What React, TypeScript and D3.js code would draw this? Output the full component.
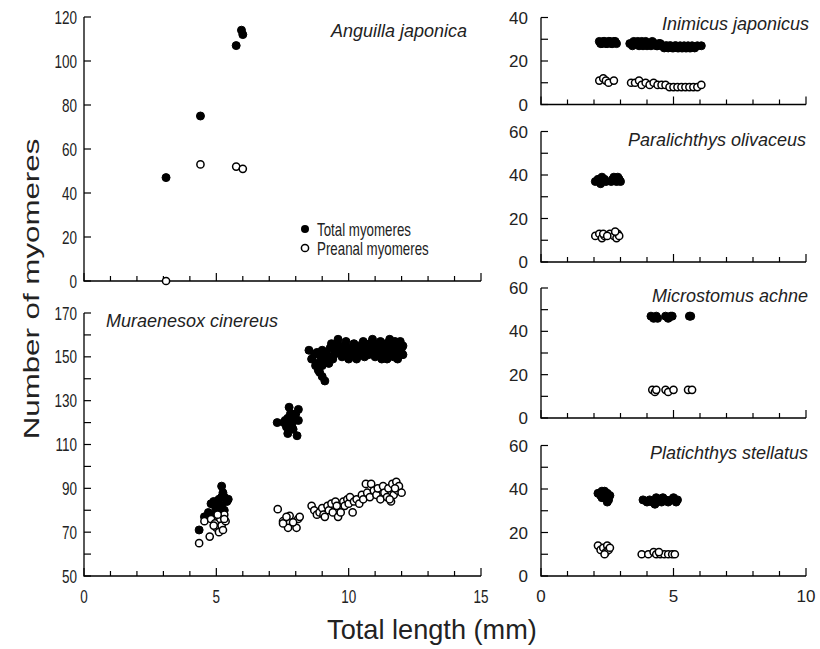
import React from "react";
import * as d3 from "d3";

type Pt = [number, number];

const W = 820;
const H = 649;
const SANS = "'Liberation Sans', Arial, sans-serif";
const INK = "#222";

// total length (mm), number of myomeres
const anguillaTotal: Pt[] = [[3.1, 47], [4.4, 75], [5.75, 107], [5.95, 114], [6.0, 112]];
const anguillaPreanal: Pt[] = [[3.1, 0], [4.4, 53], [5.75, 52], [6.0, 51]];

const muraenesoxTotal: Pt[] = [
  [4.35, 71], [4.55, 77], [4.7, 79], [4.8, 83], [4.9, 84], [5.0, 83], [5.1, 85], [5.2, 91],
  [5.25, 88], [5.3, 86], [5.4, 84], [5.45, 85], [5.0, 80], [5.1, 81], [5.2, 82], [5.3, 80],
  [4.9, 78], [5.15, 78], [4.95, 82], [5.2, 86], [5.05, 84],
  [7.3, 120], [7.55, 120], [7.65, 118], [7.75, 127], [7.7, 122], [7.8, 124], [7.85, 119],
  [7.7, 115], [8.05, 114], [8.1, 126], [7.95, 121], [8.0, 124], [8.1, 121], [7.9, 117], [7.6, 121],
  [8.5, 153], [8.6, 149], [8.7, 151], [8.75, 146], [8.8, 147], [8.85, 144], [8.9, 143], [9.0, 141],
  [9.1, 139], [8.95, 150], [9.0, 153], [9.05, 148], [9.15, 152], [9.2, 150], [9.3, 154], [9.35, 156],
  [9.45, 151], [9.5, 153], [9.6, 158], [9.7, 155], [9.75, 150], [9.8, 152], [9.9, 157], [10.0, 149],
  [10.05, 154], [10.1, 151], [10.2, 156], [10.3, 149], [10.35, 153], [10.4, 155], [10.5, 152],
  [10.55, 157], [10.6, 150], [10.7, 154], [10.75, 151], [10.8, 156], [10.9, 158], [10.95, 153],
  [11.0, 150], [11.1, 155], [11.15, 152], [11.2, 157], [11.3, 151], [11.35, 154], [11.4, 156],
  [11.45, 149], [11.5, 153], [11.55, 158], [11.6, 151], [11.65, 155], [11.7, 150], [11.75, 157],
  [11.8, 153], [11.85, 149], [11.9, 156], [11.95, 152], [12.0, 154], [12.05, 155], [11.7, 153],
  [11.5, 150], [11.25, 149], [9.25, 147], [9.4, 149], [9.55, 155], [9.65, 152], [9.85, 154],
  [9.95, 151], [10.15, 153], [10.25, 150], [10.45, 151], [10.65, 155], [10.85, 152], [11.05, 153],
  [11.25, 155], [11.55, 152], [11.8, 151], [11.95, 157], [12.05, 151], [10.95, 156], [9.0, 146],
  [9.1, 150], [8.8, 152],
];
const muraenesoxPreanal: Pt[] = [
  [4.35, 65], [4.75, 68], [4.55, 75], [4.8, 76], [4.95, 74], [5.0, 72], [5.1, 70], [5.15, 76],
  [5.2, 73], [5.3, 78], [5.35, 75], [5.25, 71], [5.05, 78], [4.9, 73], [5.3, 76],
  [7.32, 80.5], [7.52, 75], [7.77, 77.5], [7.71, 72], [8.09, 76], [8.03, 72], [7.9, 74.5],
  [7.52, 74], [7.65, 77], [8.15, 77],
  [8.6, 82], [8.7, 80], [8.8, 78], [8.9, 79], [9.0, 81], [9.05, 78], [9.1, 77], [9.2, 82],
  [9.25, 80], [9.35, 83], [9.4, 79], [9.5, 84], [9.55, 82], [9.6, 77], [9.7, 79], [9.8, 84],
  [9.85, 82], [9.95, 85], [10.0, 83], [10.05, 86], [10.15, 79], [10.2, 84], [10.3, 85], [10.4, 83],
  [10.5, 87], [10.55, 85], [10.65, 92], [10.7, 88], [10.8, 86], [10.85, 92], [10.95, 89],
  [11.05, 87], [11.1, 90], [11.2, 85], [11.3, 91], [11.35, 88], [11.45, 86], [11.5, 90],
  [11.6, 84], [11.65, 92], [11.7, 87], [11.8, 93], [11.85, 89], [11.9, 91], [12.0, 88],
  [11.55, 85], [11.75, 90],
];

const inimicusTotal: Pt[] = [
  [2.2, 29], [2.25, 28], [2.3, 28], [2.35, 29], [2.4, 29], [2.45, 28], [2.5, 28], [2.55, 29],
  [2.6, 29], [2.65, 28], [2.7, 28], [2.75, 29], [2.8, 29], [2.85, 28],
  [3.35, 28], [3.45, 27], [3.5, 29], [3.55, 28], [3.6, 28], [3.65, 29], [3.7, 27], [3.75, 28],
  [3.8, 29], [3.85, 27], [3.9, 28], [3.95, 29], [4.0, 27], [4.05, 28], [4.1, 28], [4.15, 27],
  [4.2, 29], [4.25, 28], [4.3, 28], [4.35, 27], [4.4, 27], [4.45, 28], [4.5, 28], [4.55, 27],
  [4.6, 27], [4.65, 26], [4.7, 27], [4.75, 27], [4.8, 26], [4.85, 27], [4.9, 27], [4.95, 26],
  [5.0, 26], [5.05, 27], [5.1, 27], [5.15, 26], [5.2, 26], [5.25, 27], [5.3, 26], [5.35, 26],
  [5.4, 27], [5.45, 26], [5.5, 26], [5.55, 27], [5.6, 26], [5.65, 26], [5.7, 27], [5.8, 26],
  [5.9, 27], [6.05, 27],
];
const inimicusPreanal: Pt[] = [
  [2.2, 11], [2.35, 12], [2.45, 11], [2.55, 10], [2.75, 11],
  [3.4, 10], [3.55, 10], [3.7, 11], [3.8, 9], [3.95, 10], [4.1, 9], [4.25, 10], [4.4, 9],
  [4.55, 9], [4.7, 9], [4.85, 8], [5.0, 8], [5.15, 8], [5.3, 8], [5.45, 8], [5.6, 8],
  [5.75, 8], [5.9, 8], [6.05, 9],
];

const paralichthysTotal: Pt[] = [
  [2.05, 37], [2.15, 38], [2.25, 36], [2.35, 38], [2.45, 37], [2.3, 39], [2.2, 37], [2.4, 38],
  [2.65, 37], [2.7, 38], [2.75, 39], [2.85, 37], [2.95, 38], [3.0, 37], [2.9, 39], [2.8, 38],
];
const paralichthysPreanal: Pt[] = [
  [2.05, 12], [2.2, 13], [2.3, 11], [2.4, 12], [2.35, 13], [2.6, 13], [2.75, 12],
  [2.85, 11], [2.9, 13], [2.95, 12], [2.5, 12], [2.8, 14],
];

const microstomusTotal: Pt[] = [
  [4.15, 47], [4.25, 46], [4.35, 47], [4.4, 46], [4.7, 47], [4.8, 46], [4.9, 47], [4.95, 47],
  [5.6, 47], [5.65, 47],
];
const microstomusPreanal: Pt[] = [
  [4.2, 13], [4.3, 12], [4.35, 13], [4.7, 13], [4.8, 12], [5.0, 13], [5.55, 13], [5.7, 13],
];

const platichthysTotal: Pt[] = [
  [2.15, 38], [2.25, 37], [2.3, 39], [2.35, 38], [2.4, 36], [2.45, 37], [2.5, 38], [2.55, 35],
  [2.6, 37], [2.5, 34], [2.4, 39], [2.3, 36],
  [3.85, 35], [4.0, 34], [4.1, 35], [4.2, 34], [4.3, 33], [4.35, 36], [4.45, 35], [4.55, 34],
  [4.6, 36], [4.7, 35], [4.8, 34], [4.9, 35], [5.0, 36], [5.1, 34], [5.15, 35],
];
const platichthysPreanal: Pt[] = [
  [2.15, 14], [2.25, 12], [2.35, 13], [2.45, 11], [2.5, 14], [2.55, 12], [2.4, 10], [2.6, 13],
  [3.8, 10], [4.05, 10], [4.25, 11], [4.35, 10], [4.5, 10], [4.65, 10], [4.8, 10], [4.95, 10],
  [5.05, 10], [4.45, 11],
];

type PanelCfg = {
  title: string;
  titleX: number;
  titleY: number;
  titleAnchor: "start" | "end";
  x: [number, number, number, number]; // domain lo, hi, range lo, hi
  y: [number, number, number, number];
  yStep: number;
  yLabelStep: number;
  xLabels: boolean;
  narrow: boolean;
  total: Pt[];
  preanal: Pt[];
};

const panels: PanelCfg[] = [
  { title: "Anguilla japonica", titleX: 467, titleY: 37, titleAnchor: "end",
    x: [0, 15, 84, 481], y: [0, 120, 281, 17], yStep: 20, yLabelStep: 20, xLabels: false, narrow: true,
    total: anguillaTotal, preanal: anguillaPreanal },
  { title: "Muraenesox cinereus", titleX: 106, titleY: 327, titleAnchor: "start",
    x: [0, 15, 84, 481], y: [50, 170, 576, 313], yStep: 10, yLabelStep: 20, xLabels: true, narrow: true,
    total: muraenesoxTotal, preanal: muraenesoxPreanal },
  { title: "Inimicus japonicus", titleX: 809, titleY: 30, titleAnchor: "end",
    x: [0, 10, 541, 806], y: [0, 40, 104.5, 17.5], yStep: 10, yLabelStep: 20, xLabels: false, narrow: false,
    total: inimicusTotal, preanal: inimicusPreanal },
  { title: "Paralichthys olivaceus", titleX: 806, titleY: 146, titleAnchor: "end",
    x: [0, 10, 541, 806], y: [0, 60, 262, 131.5], yStep: 10, yLabelStep: 20, xLabels: false, narrow: false,
    total: paralichthysTotal, preanal: paralichthysPreanal },
  { title: "Microstomus achne", titleX: 808, titleY: 302, titleAnchor: "end",
    x: [0, 10, 541, 806], y: [0, 60, 418, 288], yStep: 10, yLabelStep: 20, xLabels: false, narrow: false,
    total: microstomusTotal, preanal: microstomusPreanal },
  { title: "Platichthys stellatus", titleX: 808, titleY: 459, titleAnchor: "end",
    x: [0, 10, 541, 806], y: [0, 60, 576, 445.5], yStep: 10, yLabelStep: 20, xLabels: true, narrow: false,
    total: platichthysTotal, preanal: platichthysPreanal },
];

const R = 4;

// horizontally condensed text, like the reference's narrow face
function Narrow({ x, y, size, anchor, sx, children }: { x: number; y: number; size: number; anchor?: string; sx?: number; children: React.ReactNode }) {
  return (
    <text transform={`translate(${x},${y}) scale(${sx || 0.75},1)`} textAnchor={anchor || "start"}
      fontFamily={SANS} fontSize={size} fill={INK}>
      {children}
    </text>
  );
}

function Panel({ p }: { p: PanelCfg }) {
  const xs = d3.scaleLinear().domain([p.x[0], p.x[1]]).range([p.x[2], p.x[3]]);
  const ys = d3.scaleLinear().domain([p.y[0], p.y[1]]).range([p.y[2], p.y[3]]);
  const x0 = xs.range()[0];
  const x1 = xs.range()[1];
  const yb = ys.range()[0];
  const yt = ys.range()[1];
  const yTicks = d3.range(p.y[0], p.y[1] + 0.001, p.yStep);
  const xTicks = d3.range(p.x[0], p.x[1] + 0.001, 1);
  return (
    <g>
      <path d={`M${x0},${yt}V${yb}H${x1}`} fill="none" stroke="#000" strokeWidth={1.3} />
      {yTicks.map((v) => (
        <line key={"y" + v} x1={x0} x2={x0 + 7} y1={ys(v)} y2={ys(v)} stroke="#000" strokeWidth={1.2} />
      ))}
      {yTicks
        .filter((v) => (v - p.y[0]) % p.yLabelStep === 0)
        .map((v) =>
          p.narrow ? (
            <Narrow key={"yl" + v} x={x0 - 7} y={ys(v) + 6.5} size={18} anchor="end">{v}</Narrow>
          ) : (
            <text key={"yl" + v} x={x0 - 13} y={ys(v) + 6} textAnchor="end" fontFamily={SANS}
              fontSize={17} fill={INK}>
              {v}
            </text>
          )
        )}
      {xTicks.map((v) => (
        <line key={"x" + v} x1={xs(v)} x2={xs(v)} y1={yb} y2={yb - (v % 5 === 0 ? 8 : 5)}
          stroke="#000" strokeWidth={1.2} />
      ))}
      {p.xLabels &&
        xTicks
          .filter((v) => v % 5 === 0)
          .map((v) =>
            p.narrow ? (
              <Narrow key={"xl" + v} x={xs(v)} y={yb + 27} size={18} anchor="middle">{v}</Narrow>
            ) : (
              <text key={"xl" + v} x={xs(v)} y={yb + 26} textAnchor="middle" fontFamily={SANS}
                fontSize={17} fill={INK}>
                {v}
              </text>
            )
          )}
      <text x={p.titleX} y={p.titleY} textAnchor={p.titleAnchor} fontFamily={SANS} fontSize={18}
        fontStyle="italic" fill={INK}>
        {p.title}
      </text>
      {p.total.map((d, i) => (
        <circle key={"t" + i} cx={xs(d[0])} cy={ys(d[1])} r={R} fill="#000" stroke="#000" strokeWidth={1} />
      ))}
      {p.preanal.map((d, i) => (
        <circle key={"p" + i} cx={xs(d[0])} cy={ys(d[1])} r={R - 0.4} fill="#fff" stroke="#000" strokeWidth={1.5} />
      ))}
    </g>
  );
}

export default function App() {
  return (
    <svg width={W} height={H} style={{ position: "absolute", left: 0, top: 0, background: "#fff" }}>
      {panels.map((p) => (
        <Panel key={p.title} p={p} />
      ))}
      {/* legend */}
      <circle cx={305} cy={229} r={R} fill="#000" />
      <Narrow x={317} y={235.5} size={18} sx={0.74}>Total myomeres</Narrow>
      <circle cx={305} cy={248} r={R - 0.4} fill="#fff" stroke="#000" strokeWidth={1.5} />
      <Narrow x={317} y={254.5} size={18} sx={0.74}>Preanal myomeres</Narrow>
      <text transform="translate(39,289) rotate(-90) scale(1.36,0.95)" textAnchor="middle"
        fontFamily={SANS} fontSize={23} fill={INK}>
        Number of myomeres
      </text>
      <Narrow x={432} y={639} size={28} sx={0.97} anchor="middle">Total length (mm)</Narrow>
    </svg>
  );
}
